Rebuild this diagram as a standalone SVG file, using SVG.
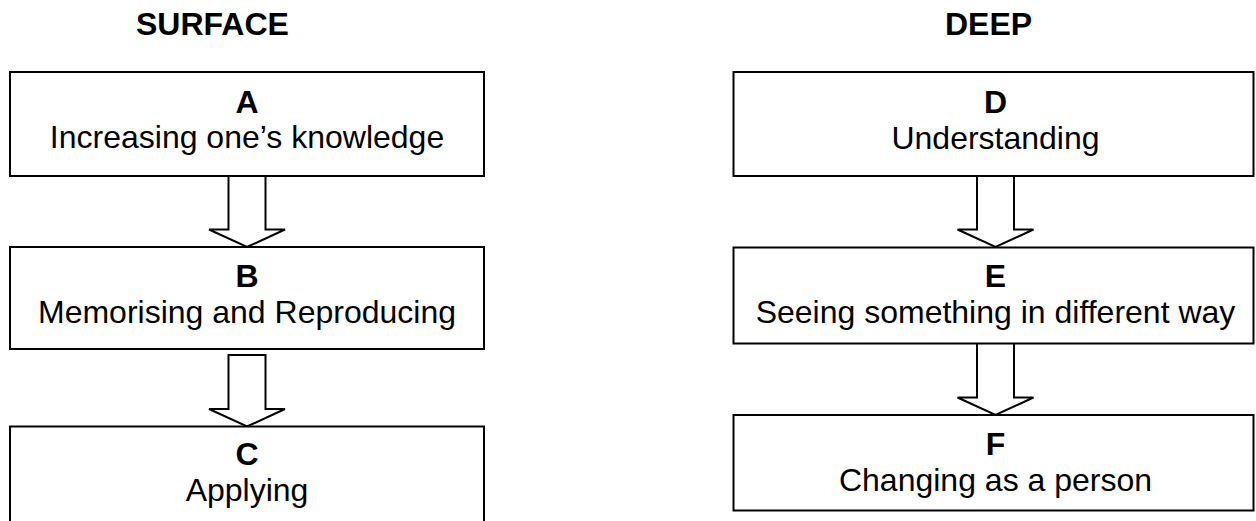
<svg xmlns="http://www.w3.org/2000/svg" width="1256" height="521" viewBox="0 0 1256 521">
<style>
.box{fill:#fff;stroke:#000;stroke-width:2}
.arr{fill:#fff;stroke:#000;stroke-width:2;stroke-linejoin:miter}
.t{font-family:"Liberation Sans",Arial,sans-serif;font-size:32px;fill:#000;text-anchor:middle}
.b{font-weight:bold}
.h{font-family:"Liberation Sans",Arial,sans-serif;font-size:32px;font-weight:bold;fill:#000}
</style>
<rect width="1256" height="521" fill="#fff"/>
<text class="h" x="136" y="35">SURFACE</text>
<text class="h" x="945" y="35">DEEP</text>
<g id="connectors">
<path class="arr" d="M228.5,176 V229.5 H209 L247,247 L285,229.5 H265.5 V176"/>
<path class="arr" d="M228.5,355 V409 H209 L247,426.5 L285,409 H265.5 V355 Z"/>
<path class="arr" d="M977,176 V229.5 H957.5 L995.5,247 L1033.5,229.5 H1014 V176"/>
<path class="arr" d="M977,343.5 V397.5 H957.5 L995.5,415 L1033.5,397.5 H1014 V343.5"/>
</g>
<g id="nodeA">
<rect class="box" x="10" y="72" width="474" height="104"/>
<text class="t b" x="247" y="113">A</text>
<text class="t" x="247" y="148">Increasing one’s knowledge</text>
</g>
<g id="nodeB">
<rect class="box" x="10" y="247" width="474" height="102"/>
<text class="t b" x="247" y="287">B</text>
<text class="t" x="247" y="323">Memorising and Reproducing</text>
</g>
<g id="nodeC">
<rect class="box" x="10" y="426.5" width="474" height="110"/>
<text class="t b" x="247" y="465">C</text>
<text class="t" x="247" y="501">Applying</text>
</g>
<g id="nodeD">
<rect class="box" x="733.5" y="72" width="520" height="104"/>
<text class="t b" x="995.5" y="113">D</text>
<text class="t" x="995.5" y="149">Understanding</text>
</g>
<g id="nodeE">
<rect class="box" x="733.5" y="247.5" width="520" height="96"/>
<text class="t b" x="995.5" y="287">E</text>
<text class="t" x="995.5" y="323">Seeing something in different way</text>
</g>
<g id="nodeF">
<rect class="box" x="733.5" y="415" width="520" height="95.5"/>
<text class="t b" x="995.5" y="455">F</text>
<text class="t" x="995.5" y="491">Changing as a person</text>
</g>
</svg>
